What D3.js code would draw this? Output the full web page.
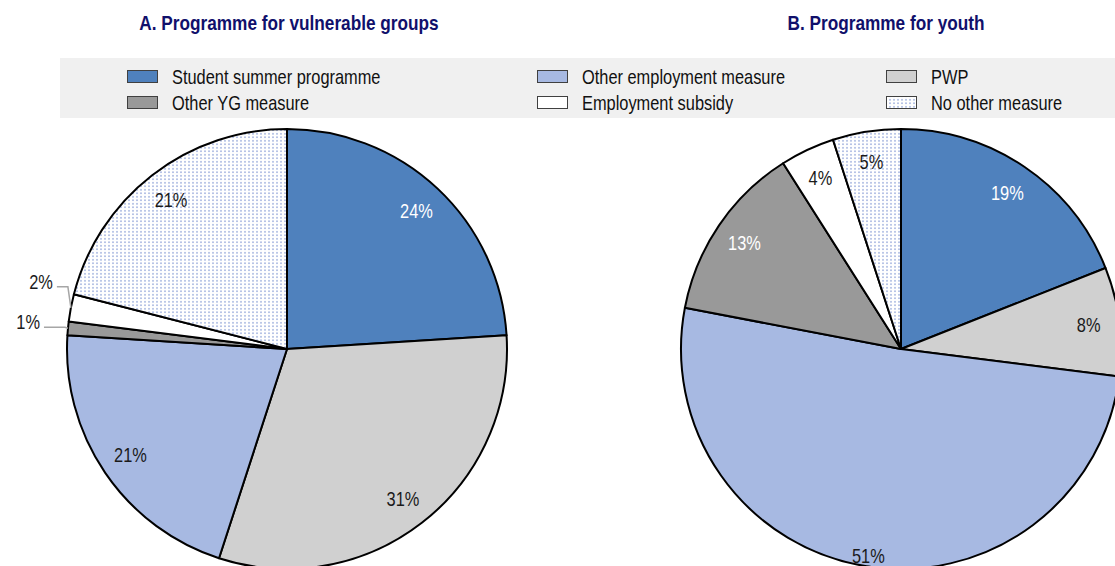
<!DOCTYPE html>
<html>
<head>
<meta charset="utf-8">
<script src="https://cdn.jsdelivr.net/npm/d3@7"></script>
<style>
  html, body { margin: 0; padding: 0; background: #fff; }
  svg { display: block; }
</style>
</head>
<body>
<svg id="chart" width="1115" height="566"></svg>
<script>
// Categories of the follow-up measure, in pie order (clockwise from 12 o'clock)
const categories = [
  "Student summer programme",
  "PWP",
  "Other employment measure",
  "Other YG measure",
  "Employment subsidy",
  "No other measure"
];
// Share of participants (%) for each panel
const valuesA = [24, 31, 21, 1, 2, 21];
const valuesB = [19, 8, 51, 13, 4, 5];
const panelTitles = ["A. Programme for vulnerable groups", "B. Programme for youth"];
// Legend reading order: two rows of three
const legendOrder = [
  "Student summer programme", "Other employment measure", "PWP",
  "Other YG measure", "Employment subsidy", "No other measure"
];

const fills = {
  "Student summer programme": "#4f81bd",
  "PWP": "#d0d0d0",
  "Other employment measure": "#a7b9e2",
  "Other YG measure": "#999999",
  "Employment subsidy": "#ffffff",
  "No other measure": "url(#dots)"
};
const whiteLabel = new Set(["Student summer programme", "Other YG measure"]);

const svg = d3.select("#chart");
const W = 1115, H = 566;

// Detect a condensed face; otherwise squeeze the regular one horizontally
const probe = svg.append("text").attr("font-size", 100).text("Student summer programme");
probe.attr("font-family", "'Liberation Sans Narrow', 'Liberation Sans', Arial, sans-serif");
const wNarrow = probe.node().getComputedTextLength();
probe.attr("font-family", "'Liberation Sans', Arial, sans-serif");
const wRegular = probe.node().getComputedTextLength();
probe.remove();
const hasNarrow = wNarrow / wRegular < 0.9;
const FONT = hasNarrow ? "'Liberation Sans Narrow', sans-serif" : "'Liberation Sans', Arial, sans-serif";
const SQUEEZE = hasNarrow ? 1 : 0.82;

function place(sel, x, y) {
  return sel.attr("transform", `translate(${x},${y}) scale(${SQUEEZE},1)`)
            .attr("font-family", FONT);
}

// Dotted fill
const defs = svg.append("defs");
const pat = defs.append("pattern")
  .attr("id", "dots").attr("patternUnits", "userSpaceOnUse")
  .attr("width", 4).attr("height", 3.5);
pat.append("rect").attr("width", 4).attr("height", 3.5).attr("fill", "#ffffff");
pat.append("rect").attr("x", 1).attr("y", 1).attr("width", 2).attr("height", 1.6).attr("fill", "#b3c1e5");

// Panel titles
const panels = [
  { title: panelTitles[0], values: valuesA, cx: 287, cy: 349, titleX: 289,
    radial: {},
    outside: {
      "Employment subsidy": { rise: 21, run: 11 },
      "Other YG measure":   { rise: 1,  run: 21 }
    } },
  { title: panelTitles[1], values: valuesB, cx: 901, cy: 349, titleX: 886,
    radial: { "Other employment measure": 0.95 },
    outside: {} }
];

panels.forEach(p => {
  place(svg.append("text"), p.titleX, 30)
    .attr("text-anchor", "middle")
    .attr("font-size", 21)
    .attr("font-weight", "bold")
    .attr("fill", "#10106b")
    .text(p.title);
});

// Legend band
const legend = svg.append("g");
legend.append("rect")
  .attr("x", 60).attr("y", 58).attr("width", W - 60).attr("height", 60)
  .attr("fill", "#f0f0f0");
const colX = [127, 537, 886];
const rowY = [70, 96];
legendOrder.forEach((name, i) => {
  const cx = colX[i % 3], ry = rowY[Math.floor(i / 3)];
  legend.append("rect")
    .attr("x", cx + 0.5).attr("y", ry + 0.5)
    .attr("width", 30).attr("height", 12)
    .attr("fill", fills[name])
    .attr("stroke", "#404040").attr("stroke-width", 1);
  place(legend.append("text"), cx + 45, ry + 14)
    .attr("font-size", 20)
    .attr("fill", "#111")
    .text(name);
});

// Pies
const R = 220;
const pie = d3.pie().sort(null).value(d => d.value);
const arc = d3.arc().innerRadius(0).outerRadius(R);

panels.forEach(p => {
  const data = categories.map((c, i) => ({ name: c, value: p.values[i] }));
  const arcs = pie(data);
  const g = svg.append("g").attr("transform", `translate(${p.cx},${p.cy})`);

  g.selectAll("path.slice")
    .data(arcs)
    .join("path")
    .attr("class", "slice")
    .attr("d", arc)
    .attr("fill", d => fills[d.data.name])
    .attr("stroke", "#000")
    .attr("stroke-width", 2)
    .attr("stroke-linejoin", "round");

  arcs.forEach(d => {
    const mid = (d.startAngle + d.endAngle) / 2;
    const label = d.data.value + "%";
    const out = p.outside[d.data.name];
    if (out) {
      // Leader from the rim, elbow, then a horizontal run to the label
      const px = Math.sin(mid) * R, py = -Math.cos(mid) * R;
      const ex = px - 3, ey = py - out.rise;
      const hx = ex - out.run;
      g.append("path")
        .attr("d", `M${px},${py}L${ex},${ey}L${hx},${ey}`)
        .attr("fill", "none")
        .attr("stroke", "#a6a6a6")
        .attr("stroke-width", 1.5);
      place(g.append("text"), hx - 4, ey + 2)
        .attr("text-anchor", "end")
        .attr("font-size", 20)
        .attr("fill", "#1a1a1a")
        .text(label);
    } else {
      const k = p.radial[d.data.name] || 0.86;
      const lx = Math.sin(mid) * R * k, ly = -Math.cos(mid) * R * k;
      place(g.append("text"), lx, ly)
        .attr("text-anchor", "middle")
        .attr("dominant-baseline", "central")
        .attr("font-size", 20)
        .attr("fill", whiteLabel.has(d.data.name) ? "#ffffff" : "#1a1a1a")
        .text(label);
    }
  });
});
</script>
</body>
</html>
